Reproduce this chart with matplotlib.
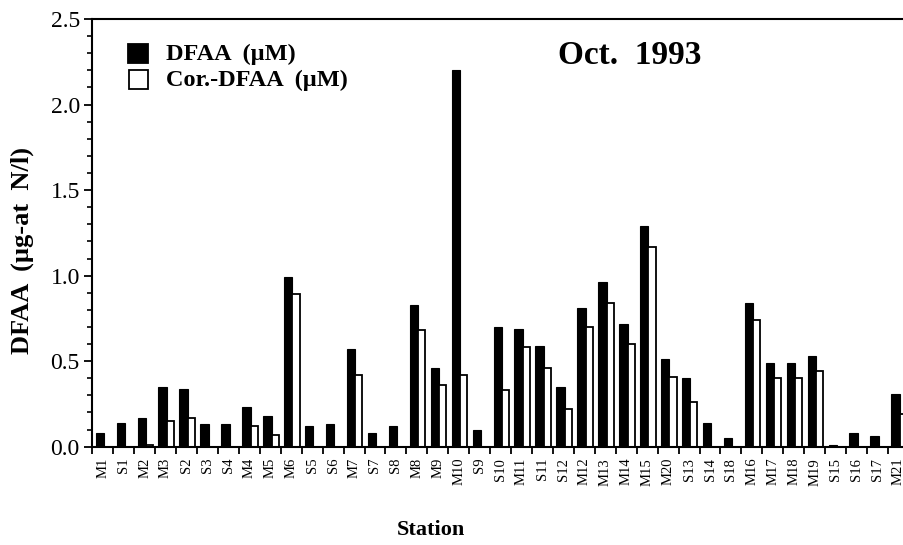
import matplotlib
matplotlib.use("Agg")
import matplotlib.pyplot as plt
from matplotlib.patches import Rectangle
from matplotlib.ticker import MultipleLocator, FixedLocator
import numpy as np

stations = ["M1", "S1", "M2", "M3", "S2", "S3", "S4", "M4", "M5", "M6", "S5", "S6",
            "M7", "S7", "S8", "M8", "M9", "M10", "S9", "S10", "M11", "S11", "S12",
            "M12", "M13", "M14", "M15", "M20", "S13", "S14", "S18", "M16", "M17",
            "M18", "M19", "S15", "S16", "S17", "M21"]
dfaa = [0.08, 0.14, 0.17, 0.35, 0.34, 0.13, 0.13, 0.23, 0.18, 0.99, 0.12, 0.13,
        0.57, 0.08, 0.12, 0.83, 0.46, 2.20, 0.10, 0.70, 0.69, 0.59, 0.35,
        0.81, 0.96, 0.72, 1.29, 0.51, 0.40, 0.14, 0.05, 0.84, 0.49,
        0.49, 0.53, 0.01, 0.08, 0.06, 0.31]
cor_dfaa = [0.0, 0.0, 0.01, 0.15, 0.17, 0.0, 0.0, 0.12, 0.07, 0.89, 0.0, 0.0,
            0.42, 0.0, 0.0, 0.68, 0.36, 0.42, 0.0, 0.33, 0.58, 0.46, 0.22,
            0.70, 0.84, 0.60, 1.17, 0.41, 0.26, 0.0, 0.0, 0.74, 0.40,
            0.40, 0.44, 0.0, 0.0, 0.0, 0.19]

W, H = 904, 545
fig = plt.figure(figsize=(W / 100, H / 100), dpi=100)
serif = ["Liberation Serif", "DejaVu Serif"]
plt.rcParams["font.family"] = serif

# axes in pixel coords
left_px, right_px = 92.3, 92.3 + 39 * 20.94
top_px, bot_px = 19.0, 446.7
ax = fig.add_axes([left_px / W, (H - bot_px) / H, (right_px - left_px) / W, (bot_px - top_px) / H])

x = np.arange(len(stations))
ax.bar(x - 0.34, dfaa, width=0.40, align="edge", color="black", edgecolor="black", linewidth=0.8)
ax.bar(x + 0.06, cor_dfaa, width=0.34, align="edge", color="white", edgecolor="black", linewidth=1.3)

ax.set_xlim(-0.5, 38.5)
ax.set_ylim(0, 2.5)
for s in ["top", "left", "bottom"]:
    ax.spines[s].set_linewidth(1.5)
ax.spines["right"].set_visible(False)

ax.yaxis.set_major_locator(MultipleLocator(0.5))
ax.yaxis.set_minor_locator(MultipleLocator(0.1))
ax.set_yticklabels([f"{v:.1f}" for v in ax.get_yticks()])
ax.tick_params(axis="y", which="major", direction="out", length=6, width=1.3, labelsize=17, pad=3)
ax.tick_params(axis="y", which="minor", direction="out", length=3.5, width=1.2)

ax.set_xticks(x)
ax.set_xticklabels(stations, rotation=90, fontsize=10.5)
ax.xaxis.set_minor_locator(FixedLocator(np.arange(-0.5, 39, 1.0)))
ax.tick_params(axis="x", which="major", length=0, pad=8)
ax.tick_params(axis="x", which="minor", direction="out", length=5, width=1.3)

fig.text(22 / W, 1 - 250 / H, "DFAA  (\u00b5g-at  N/l)", ha="center", va="center",
         rotation=90, fontsize=19, fontweight="bold")
fig.text(431 / W, 1 - 530 / H, "Station", ha="center", va="center",
         fontsize=16, fontweight="bold")

fig.text(630 / W, 1 - 55 / H, "Oct.  1993", ha="center", va="center",
         fontsize=24, fontweight="bold")

# legend (drawn manually in figure pixel coords)
def fig_rect(x0, y0, w, h, fc):
    fig.patches.append(Rectangle((x0 / W, 1 - (y0 + h) / H), w / W, h / H,
                                 transform=fig.transFigure, facecolor=fc,
                                 edgecolor="black", linewidth=1.3))

fig_rect(128, 44, 20, 19, "black")
fig_rect(129, 70, 19, 19, "white")
fig.text(166 / W, 1 - 54 / H, "DFAA  (\u00b5M)", ha="left", va="center",
         fontsize=17.5, fontweight="bold")
fig.text(166 / W, 1 - 80 / H, "Cor.-DFAA  (\u00b5M)", ha="left", va="center",
         fontsize=17.5, fontweight="bold")

fig.savefig("out.png", dpi=100)
